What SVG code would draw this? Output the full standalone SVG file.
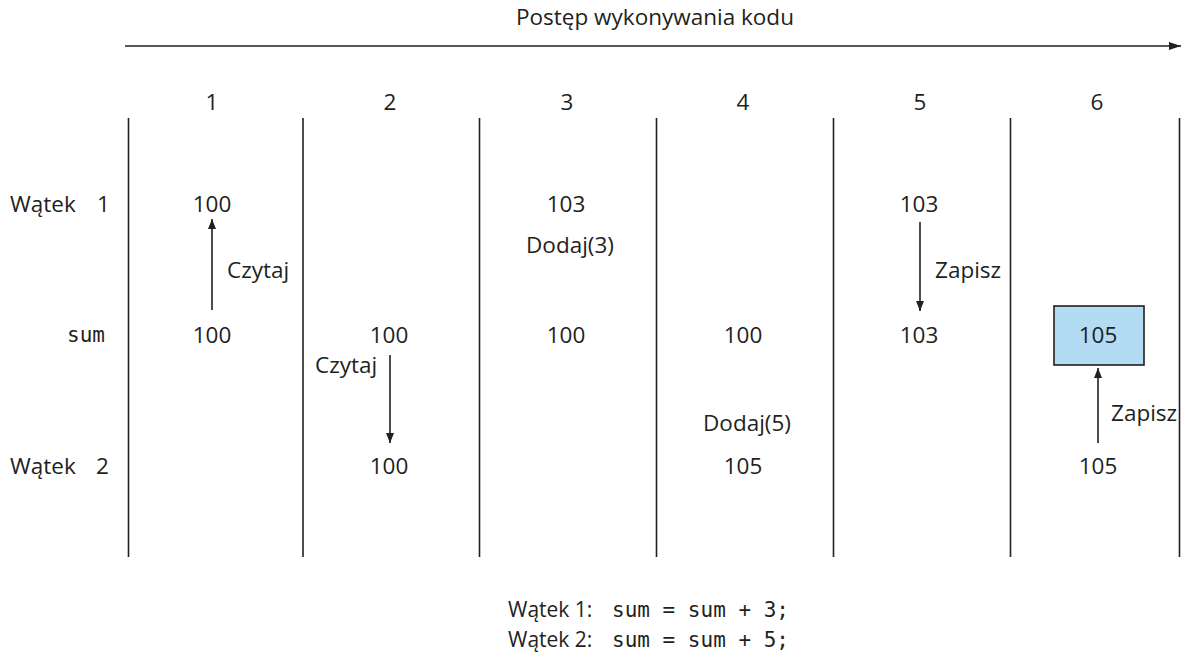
<svg xmlns="http://www.w3.org/2000/svg" width="1186" height="668" viewBox="0 0 1186 668">
  <defs>
    <marker id="arrow" viewBox="0 0 10 10" refX="10" refY="5" markerWidth="10" markerHeight="10" markerUnits="userSpaceOnUse" orient="auto">
      <path d="M0,1 L10,5 L0,9 Z" fill="#231f20"/>
    </marker>
    <marker id="arrowWide" viewBox="0 0 12 10" refX="12" refY="5" markerWidth="12" markerHeight="10" markerUnits="userSpaceOnUse" orient="auto">
      <path d="M0,1 L12,5 L0,9 Z" fill="#231f20"/>
    </marker>
  </defs>
  <style>
    .t { font-family: "Open Sans", "Noto Sans", "Liberation Sans", sans-serif; font-size: 22.5px; fill: #231f20; }
    .c { text-anchor: middle; }
    .lbl { font-size: 21px; }
    .mono { font-family: "DejaVu Sans Mono", "Liberation Mono", monospace; font-size: 21px; fill: #231f20; }
    .grid { stroke: #231f20; stroke-width: 1.6; fill: none; }
    .conn { stroke: #231f20; stroke-width: 1.6; fill: none; marker-end: url(#arrow); }
  </style>
  <rect width="1186" height="668" fill="#ffffff"/>

  <!-- timeline heading -->
  <g id="timeline">
    <text class="t c" x="655" y="25">Postęp wykonywania kodu</text>
    <line x1="125" y1="46" x2="1181" y2="46" stroke="#231f20" stroke-width="1.6" marker-end="url(#arrowWide)"/>
  </g>

  <!-- step columns -->
  <g id="columns">
    <line class="grid" x1="128.5" y1="118" x2="128.5" y2="557"/>
    <line class="grid" x1="303" y1="118" x2="303" y2="557"/>
    <line class="grid" x1="479.5" y1="118" x2="479.5" y2="557"/>
    <line class="grid" x1="656.5" y1="118" x2="656.5" y2="557"/>
    <line class="grid" x1="833.5" y1="118" x2="833.5" y2="557"/>
    <line class="grid" x1="1010.5" y1="118" x2="1010.5" y2="557"/>
    <line class="grid" x1="1179.5" y1="118" x2="1179.5" y2="557"/>
    <text class="t c" x="212" y="110">1</text>
    <text class="t c" x="390" y="110">2</text>
    <text class="t c" x="567" y="110">3</text>
    <text class="t c" x="743" y="110">4</text>
    <text class="t c" x="920" y="110">5</text>
    <text class="t c" x="1097" y="110">6</text>
  </g>

  <!-- row labels -->
  <g id="rows">
    <text class="t" x="10" y="212">Wątek</text>
    <text class="t" x="97" y="212">1</text>
    <text class="mono" x="105" y="342" text-anchor="end">sum</text>
    <text class="t" x="10" y="474">Wątek</text>
    <text class="t" x="96" y="474">2</text>
  </g>

  <!-- step 1 -->
  <g id="step1">
    <text class="t c" x="212" y="212">100</text>
    <text class="t c" x="212" y="343">100</text>
    <text class="t" x="227" y="278">Czytaj</text>
  </g>
  <!-- step 2 -->
  <g id="step2">
    <text class="t c" x="389" y="343">100</text>
    <text class="t" x="315" y="373">Czytaj</text>
    <text class="t c" x="389" y="474">100</text>
  </g>
  <!-- step 3 -->
  <g id="step3">
    <text class="t c" x="566" y="212">103</text>
    <text class="t c" x="570" y="253">Dodaj(3)</text>
    <text class="t c" x="566" y="343">100</text>
  </g>
  <!-- step 4 -->
  <g id="step4">
    <text class="t c" x="743" y="343">100</text>
    <text class="t c" x="747" y="431">Dodaj(5)</text>
    <text class="t c" x="743" y="474">105</text>
  </g>
  <!-- step 5 -->
  <g id="step5">
    <text class="t c" x="919" y="212">103</text>
    <text class="t" x="935" y="278">Zapisz</text>
    <text class="t c" x="919" y="343">103</text>
  </g>
  <!-- step 6 -->
  <g id="step6">
    <rect x="1054" y="306" width="90" height="59" fill="#b3dbf4" stroke="#231f20" stroke-width="1.6"/>
    <text class="t c" x="1098" y="343">105</text>
    <text class="t" x="1111" y="421">Zapisz</text>
    <text class="t c" x="1098" y="474">105</text>
  </g>

  <!-- read / write transfers -->
  <g id="connectors">
    <line class="conn" x1="212" y1="310" x2="212" y2="219"/>
    <line class="conn" x1="390" y1="355" x2="390" y2="443"/>
    <line class="conn" x1="920" y1="222" x2="920" y2="311"/>
    <line class="conn" x1="1098" y1="443" x2="1098" y2="368"/>
  </g>

  <!-- source code of both threads -->
  <g id="legend">
    <text class="t lbl" x="508" y="617">Wątek 1:</text>
    <text class="mono" x="612" y="617">sum = sum + 3;</text>
    <text class="t lbl" x="508" y="647">Wątek 2:</text>
    <text class="mono" x="612" y="647">sum = sum + 5;</text>
  </g>
</svg>
